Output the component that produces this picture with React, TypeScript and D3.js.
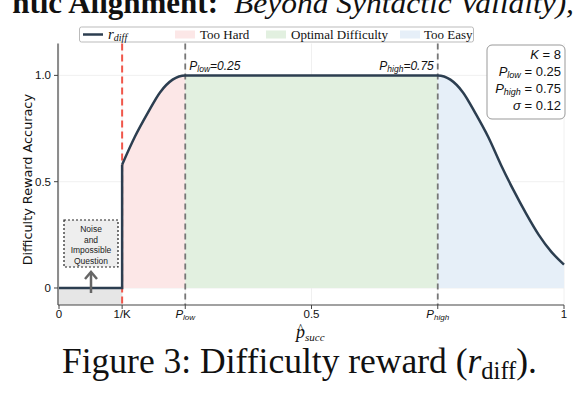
import React from "react";
import * as d3 from "d3";

// curve (p_succ -> r_diff)
const pSucc = [0.125, 0.15, 0.175, 0.2, 0.225, 0.25, 0.75, 0.775, 0.8, 0.825, 0.85, 0.875, 0.9, 0.925, 0.95, 0.975, 1];
const rDiff = [0.58, 0.71, 0.82, 0.92, 0.98, 1, 1, 0.98, 0.92, 0.82, 0.71, 0.58, 0.46, 0.35, 0.25, 0.17, 0.11];

const invK = 0.125;
const pLow = 0.25;
const pHigh = 0.75;

const xTicks = [0, 0.125, 0.25, 0.5, 0.75, 1];
const xTickLabels = ["0", "1/K", "P_low", "0.5", "P_high", "1"];
const yTicks = [0, 0.5, 1];
const yTickLabels = ["0", "0.5", "1.0"];

const regions = [
  { name: "Too Hard", from: invK, to: pLow, color: "#fce7e7" },
  { name: "Optimal Difficulty", from: pLow, to: pHigh, color: "#e2f0e0" },
  { name: "Too Easy", from: pHigh, to: 1, color: "#e6eff8" },
];

const params = [
  { sym: "K", sub: "", val: "8" },
  { sym: "P", sub: "low", val: "0.25" },
  { sym: "P", sub: "high", val: "0.75" },
  { sym: "σ", sub: "", val: "0.12" },
];

const W = 588;
const H = 400;
const sans = "'Liberation Sans', Arial, sans-serif";
const serif = "'Liberation Serif', 'Times New Roman', serif";
const lineColor = "#2c3e50";

const App = () => {
  const x = d3.scaleLinear().domain([0, 1]).range([59, 564]);
  const y = d3.scaleLinear().domain([-0.08, 1.15]).range([305, 43.5]);
  const pts = pSucc.map((p, i) => [p, rDiff[i]] as [number, number]);

  const line = d3
    .line<[number, number]>()
    .x((d) => x(d[0]))
    .y((d) => y(d[1]))
    .curve(d3.curveMonotoneX);
  const area = d3
    .area<[number, number]>()
    .x((d) => x(d[0]))
    .y0(y(0))
    .y1((d) => y(d[1]))
    .curve(d3.curveMonotoneX);
  const flat = d3
    .line<[number, number]>()
    .x((d) => x(d[0]))
    .y((d) => y(d[1]))([
    [0, 0],
    [invK, 0],
    [invK, rDiff[0]],
  ]);

  const tickLabel = (lab: string) => {
    if (lab.startsWith("P_")) {
      return (
        <>
          <tspan fontStyle="italic">P</tspan>
          <tspan fontStyle="italic" fontSize={8} dy={2}>
            {lab.slice(2)}
          </tspan>
        </>
      );
    }
    return lab;
  };

  const legendY = 34.5;

  return (
    <svg width={W} height={H} style={{ position: "absolute", left: 0, top: 0, background: "#fff" }}>
      <defs>
        {regions.map((r, i) => (
          <clipPath id={`clip${i}`} key={i}>
            <rect x={x(r.from)} y={0} width={x(r.to) - x(r.from)} height={H} />
          </clipPath>
        ))}
      </defs>

      {/* page text cut off at the top */}
      <text x={218} y={13} fontFamily={serif} fontSize={31} fill="#111" fontWeight="bold" textAnchor="end">
        ntic Alignment:
      </text>
      <text x={234} y={13} fontFamily={serif} fontSize={30} fill="#111" fontStyle="italic" textLength={340} lengthAdjust="spacingAndGlyphs">
        Beyond Syntactic Validity),
      </text>

      {/* grid */}
      {yTicks.map((t) => (
        <line key={`gy${t}`} x1={x(0)} x2={x(1)} y1={y(t)} y2={y(t)} stroke="#ececec" strokeWidth={0.8} />
      ))}
      {xTicks.map((t) => (
        <line key={`gx${t}`} x1={x(t)} x2={x(t)} y1={y(-0.08)} y2={y(1.15)} stroke="#ececec" strokeWidth={0.8} />
      ))}

      {/* noise region below zero */}
      <rect x={x(0)} y={y(0)} width={x(invK) - x(0)} height={y(-0.08) - y(0)} fill="#e6e6e6" />

      {/* filled regions */}
      {regions.map((r, i) => (
        <path key={r.name} d={area(pts) || ""} fill={r.color} clipPath={`url(#clip${i})`} />
      ))}

      {/* vertical markers */}
      <line x1={x(invK)} x2={x(invK)} y1={y(1.15)} y2={y(-0.08)} stroke="#f0564a" strokeWidth={2} strokeDasharray="7,4" />
      {[pLow, pHigh].map((p) => (
        <line key={p} x1={x(p)} x2={x(p)} y1={y(1.15)} y2={y(-0.08)} stroke="#777" strokeWidth={1.8} strokeDasharray="6,4" />
      ))}

      {/* curve */}
      <path d={flat || ""} fill="none" stroke={lineColor} strokeWidth={2.5} />
      <path d={line(pts) || ""} fill="none" stroke={lineColor} strokeWidth={2.5} />

      {/* threshold labels */}
      <text x={x(pLow) + 4} y={y(1) - 5} fontFamily={sans} fontSize={12} fontStyle="italic" fill="#111">
        P<tspan fontSize={8.5} dy={2}>low</tspan>
        <tspan dy={-2}>=0.25</tspan>
      </text>
      <text x={x(pHigh) - 4} y={y(1) - 5} fontFamily={sans} fontSize={12} fontStyle="italic" fill="#111" textAnchor="end">
        P<tspan fontSize={8.5} dy={2}>high</tspan>
        <tspan dy={-2}>=0.75</tspan>
      </text>

      {/* axes */}
      <line x1={58} x2={58} y1={y(1.15)} y2={y(-0.08)} stroke="#444" strokeWidth={1.2} />
      <line x1={58} x2={x(1)} y1={y(-0.08)} y2={y(-0.08)} stroke="#444" strokeWidth={1.2} />
      {xTicks.map((t, i) => (
        <g key={`xt${t}`}>
          <line x1={x(t)} x2={x(t)} y1={y(-0.08)} y2={y(-0.08) + 4} stroke="#444" />
          <text x={x(t)} y={318} textAnchor="middle" fontFamily={sans} fontSize={11.5} fill="#111">
            {tickLabel(xTickLabels[i])}
          </text>
        </g>
      ))}
      {yTicks.map((t, i) => (
        <g key={`yt${t}`}>
          <line x1={54} x2={58} y1={y(t)} y2={y(t)} stroke="#444" />
          <text x={51} y={y(t) + 4} textAnchor="end" fontFamily={sans} fontSize={11.5} fill="#111">
            {yTickLabels[i]}
          </text>
        </g>
      ))}

      {/* axis titles */}
      <text
        transform={`translate(32,${y(0.5) - 2}) rotate(-90)`}
        textAnchor="middle"
        fontFamily="'DejaVu Sans', sans-serif"
        fontSize={12.8}
        fill="#111"
      >
        Difficulty Reward Accuracy
      </text>
      <text x={296} y={338} fontFamily={serif} fontSize={18} fontStyle="italic" fill="#111">
        p
        <tspan fontSize={11} dy={3}>succ</tspan>
      </text>
      <text x={300.5} y={332} fontFamily={serif} fontSize={12} fill="#111" textAnchor="middle">
        ^
      </text>

      {/* noise annotation */}
      <rect x={64} y={220} width={54} height={47} fill="#eeeeee" stroke="#222" strokeWidth={1.2} strokeDasharray="2,2" />
      {["Noise", "and", "Impossible", "Question"].map((s, i) => (
        <text key={s} x={91} y={232 + i * 10.5} textAnchor="middle" fontFamily={sans} fontSize={8.5} fill="#222">
          {s}
        </text>
      ))}
      <line x1={91} x2={91} y1={293} y2={273} stroke="#666" strokeWidth={2.5} />
      <path d="M85,279 L91,272 L97,279" fill="none" stroke="#666" strokeWidth={2.5} />

      {/* parameter box */}
      <rect x={487} y={45} width={78} height={74} rx={5} fill="#fff" fillOpacity={0.9} stroke="#999" />
      {params.map((p, i) => (
        <text key={i} x={561} y={59 + i * 17} textAnchor="end" fontFamily={sans} fontSize={13} fill="#111">
          <tspan fontStyle="italic">{p.sym}</tspan>
          {p.sub ? (
            <tspan fontStyle="italic" fontSize={9} dy={2}>
              {p.sub}
            </tspan>
          ) : null}
          <tspan dy={p.sub ? -2 : 0}>{` = ${p.val}`}</tspan>
        </text>
      ))}

      {/* legend */}
      <rect x={79.5} y={27} width={394} height={15} rx={2} fill="#fff" stroke="#bbb" />
      <line x1={83} x2={103} y1={legendY} y2={legendY} stroke={lineColor} strokeWidth={2.5} />
      <text x={108} y={legendY + 4} fontFamily={serif} fontSize={15} fontStyle="italic" fill="#111">
        r<tspan fontSize={10} dy={2}>diff</tspan>
      </text>
      {[
        { px: 175, tx: 200 },
        { px: 266, tx: 291 },
        { px: 400, tx: 424 },
      ].map((l, i) => (
        <g key={i}>
          <rect x={l.px} y={legendY - 4} width={20} height={8} fill={regions[i].color} />
          <text x={l.tx} y={legendY + 4.5} fontFamily={serif} fontSize={13} fill="#111">
            {regions[i].name}
          </text>
        </g>
      ))}

      {/* caption */}
      <text x={62} y={373} fontFamily={serif} fontSize={35.5} fill="#111">
        Figure 3: Difficulty reward (<tspan fontStyle="italic">r</tspan>
        <tspan fontSize={24.5} dy={6}>diff</tspan>
        <tspan dy={-6}>).</tspan>
      </text>
    </svg>
  );
};

export default App;
